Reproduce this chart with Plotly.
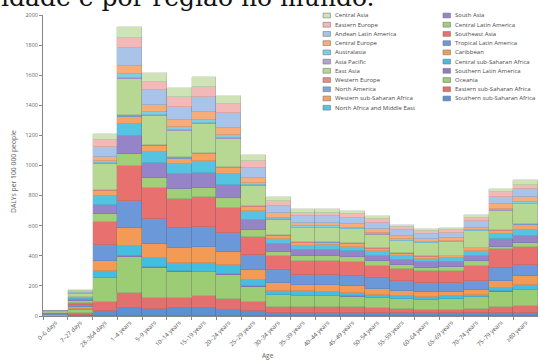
import plotly.graph_objects as go

ages = ["0–6 days", "7–27 days", "28–364 days", "1–4 years", "5–9 years", "10–14 years",
        "15–19 years", "20–24 years", "25–29 years", "30–34 years", "35–39 years",
        "40–44 years", "45–49 years", "50–54 years", "55–59 years", "60–64 years",
        "65–69 years", "70–74 years", "75–79 years", "≥80 years"]

# legend order (column-wise); stack order is the reverse (last item at the bottom)
regions = ["Central Asia", "Eastern Europe", "Andean Latin America", "Central Europe",
           "Australasia", "Asia Pacific", "East Asia", "Western Europe", "North America",
           "Western sub-Saharan Africa", "North Africa and Middle East",
           "South Asia", "Central Latin America", "Southeast Asia", "Tropical Latin America",
           "Caribbean", "Central sub-Saharan Africa", "Southern Latin America", "Oceania",
           "Eastern sub-Saharan Africa", "Southern sub-Saharan Africa"]

central_asia     = [2, 7, 44, 73, 55, 55, 66, 53, 44, 29, 27, 27, 24, 22, 18, 11, 11, 15, 22, 29]
eastern_europe   = [1, 5, 44, 66, 55, 66, 71, 62, 44, 33, 22, 22, 22, 22, 20, 22, 20, 22, 29, 31]
andean_la        = [2, 8, 66, 122, 100, 89, 95, 100, 66, 49, 44, 44, 44, 44, 40, 33, 33, 44, 51, 51]
central_europe   = [1, 5, 29, 55, 44, 44, 55, 44, 35, 31, 22, 22, 22, 22, 20, 18, 18, 15, 27, 33]
australasia      = [1, 3, 15, 22, 22, 22, 22, 22, 15, 9, 11, 11, 11, 11, 9, 9, 9, 7, 11, 11]
asia_pacific     = [1, 1, 3, 5, 4, 4, 4, 4, 3, 2, 2, 2, 2, 2, 2, 2, 2, 2, 3, 3]
east_asia        = [3, 18, 177, 244, 195, 178, 195, 189, 137, 103, 97, 95, 93, 92, 81, 87, 87, 108, 130, 130]
western_europe   = [1, 2, 3, 5, 4, 4, 4, 4, 3, 2, 2, 2, 2, 2, 2, 2, 2, 2, 3, 3]
north_america    = [1, 2, 3, 5, 4, 4, 4, 4, 3, 2, 2, 2, 2, 2, 2, 2, 2, 2, 3, 3]
western_ssa      = [1, 6, 33, 49, 40, 35, 44, 40, 27, 22, 18, 18, 18, 16, 13, 13, 13, 22, 22, 33]
nafme            = [1, 8, 55, 78, 71, 66, 78, 71, 55, 33, 31, 31, 31, 29, 27, 22, 24, 33, 33, 40]
south_asia       = [2, 12, 62, 122, 104, 104, 100, 89, 66, 55, 40, 42, 40, 33, 33, 38, 36, 33, 49, 49]
central_la       = [1, 10, 53, 78, 66, 66, 62, 66, 51, 27, 33, 33, 33, 33, 29, 22, 24, 33, 18, 27]
southeast_asia   = [3, 18, 151, 233, 206, 193, 199, 164, 115, 93, 89, 91, 91, 82, 78, 78, 80, 100, 122, 117]
tropical_la      = [2, 12, 106, 182, 162, 133, 133, 124, 100, 84, 66, 66, 66, 73, 66, 62, 60, 55, 89, 78]
caribbean        = [2, 10, 71, 117, 93, 95, 104, 89, 66, 55, 44, 44, 44, 38, 33, 31, 31, 33, 44, 55]
central_ssa      = [1, 8, 44, 66, 62, 55, 60, 62, 44, 22, 29, 27, 25, 22, 22, 18, 18, 15, 22, 33]
southern_la      = [1, 2, 3, 5, 4, 4, 4, 4, 3, 2, 2, 2, 2, 2, 2, 2, 2, 2, 3, 3]
oceania          = [3, 18, 155, 244, 204, 173, 155, 160, 104, 78, 71, 71, 70, 66, 62, 66, 68, 80, 100, 106]
eastern_ssa      = [2, 12, 62, 95, 73, 71, 84, 73, 58, 44, 40, 40, 38, 33, 31, 22, 24, 27, 40, 44]
southern_ssa     = [1, 8, 33, 55, 44, 51, 51, 40, 33, 18, 22, 22, 20, 18, 18, 18, 18, 18, 22, 22]

values = [central_asia, eastern_europe, andean_la, central_europe, australasia, asia_pacific,
          east_asia, western_europe, north_america, western_ssa, nafme, south_asia, central_la,
          southeast_asia, tropical_la, caribbean, central_ssa, southern_la, oceania,
          eastern_ssa, southern_ssa]

colors = ["#cfe4b6", "#f2b9b8", "#aac3e8", "#f6ad7a", "#7ccfe6", "#b3a3d5", "#b6d892",
          "#ea8b88", "#7fa5db", "#f5a265", "#55c3e1", "#9684c8", "#a0cf78", "#e8716f",
          "#6a98d8", "#f49a57", "#45bde0", "#8e7cc3", "#9ccc74", "#e2706e", "#5d8fd3"]

fig = go.Figure()
for name, vals, col in reversed(list(zip(regions, values, colors))):
    fig.add_trace(go.Bar(x=ages, y=vals, name=name, marker=dict(color=col,
                         line=dict(width=0.4, color="rgba(80,80,80,0.4)")),
                         showlegend=False))

W, H = 538, 360
L, R, T, B = 43, 0, 15, 44
pw, ph = W - L - R, H - T - B

def px(x):
    return (x - L) / pw

def py(y):
    return 1 - (y - T) / ph

shapes = []
annotations = []
ytick_font = dict(family="Open Sans", size=5.4, color="#5f5f5f")
xtick_font = dict(family="Open Sans", size=6.0, color="#555555")

# manual legend in two columns
row0, dy = 15.5, 9.22
for i, (name, col) in enumerate(zip(regions, colors)):
    c, r = (0, i) if i < 11 else (1, i - 11)
    sx = 323 if c == 0 else 443
    yc = row0 + r * dy
    shapes.append(dict(type="rect", xref="paper", yref="paper",
                       x0=px(sx), x1=px(sx + 7.5), y0=py(yc - 2.4), y1=py(yc + 2.4),
                       fillcolor=col, line=dict(color="#7a7a7a", width=0.6)))
    annotations.append(dict(text=name, xref="paper", yref="paper", x=px(sx + 9.5), y=py(yc),
                            xanchor="left", yanchor="middle", showarrow=False,
                            font=dict(family="Open Sans", size=6.0, color="#4a4a4a")))

annotations.append(dict(text="DALYs per 100 000 people", xref="paper", yref="paper",
                        x=px(13), y=py(172), textangle=-90, showarrow=False,
                        xanchor="center", yanchor="middle",
                        font=dict(family="Open Sans", size=6.8, color="#5f5f5f")))
annotations.append(dict(text="Age", xref="paper", yref="paper", x=px(268), y=py(355),
                        showarrow=False, xanchor="center", yanchor="middle",
                        font=dict(family="Open Sans", size=6.5, color="#5f5f5f")))
annotations.append(dict(text="idade e por região no mundo.", xref="paper", yref="paper",
                        x=px(-1), y=py(-2.5), xanchor="left", yanchor="middle", showarrow=False,
                        font=dict(family="DejaVu Serif", size=25, color="#111111")))

fig.update_layout(
    width=W, height=H, margin=dict(l=L, r=R, t=T, b=B),
    barmode="stack", bargap=0,
    paper_bgcolor="white", plot_bgcolor="white",
    shapes=shapes, annotations=annotations,
    xaxis=dict(type="category", tickangle=-45, tickfont=xtick_font, ticks="outside",
               ticklen=3, tickcolor="#888", tickson="boundaries", showline=True,
               linecolor="#888", linewidth=1, showgrid=False),
    yaxis=dict(range=[0, 2000], tickvals=list(range(0, 2001, 200)), tickfont=ytick_font,
               ticks="outside", ticklen=3, tickcolor="#888", showline=True,
               linecolor="#888", linewidth=1.2, showgrid=False, zeroline=False),
)

fig.write_html("out.html")
